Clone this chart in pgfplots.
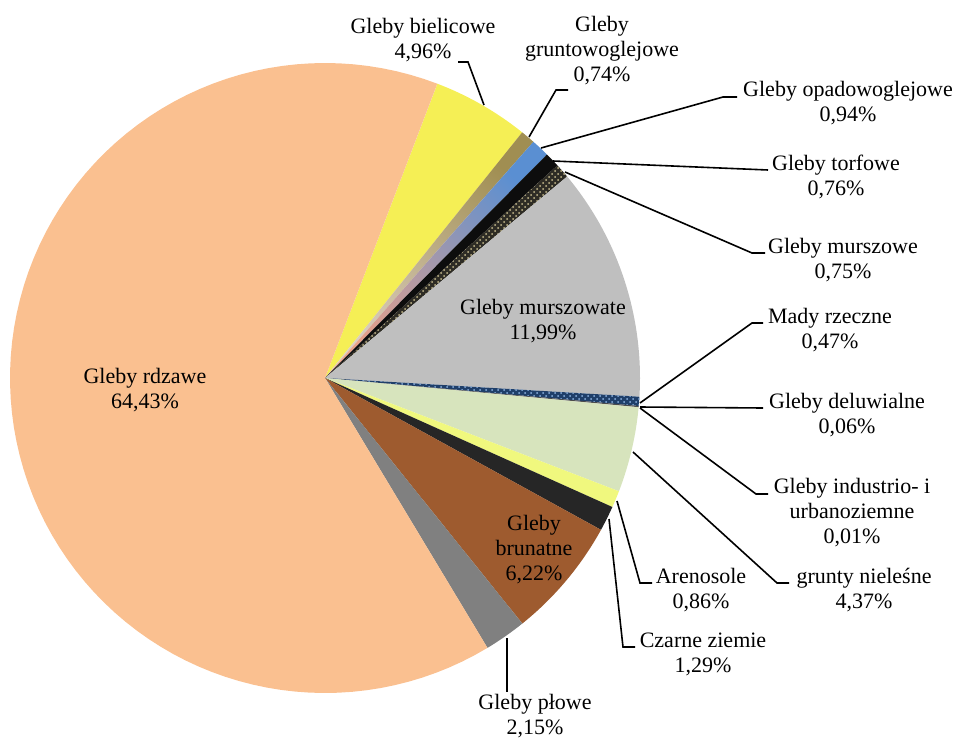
\documentclass[border=0pt]{standalone}
\usepackage{pgfplots}
\pgfplotsset{compat=1.18}
\usepackage{fontspec}
\setmainfont{Liberation Serif}
\usetikzlibrary{patterns}
\definecolor{rdzawe}{HTML}{FAC090}
\definecolor{bielic}{HTML}{F5EF55}
\definecolor{gruA}{HTML}{A08E52}
\definecolor{gruB}{HTML}{8B5A08}
\definecolor{gruC}{HTML}{DCCFC0}
\definecolor{opaA}{HTML}{5A8FD2}
\definecolor{opaB}{HTML}{17365D}
\definecolor{opaC}{HTML}{E8A088}
\definecolor{torf}{HTML}{0D0D0D}
\definecolor{murszB}{HTML}{2E2C25}
\definecolor{murszD}{HTML}{C8BC8E}
\definecolor{murszowate}{HTML}{BFBFBF}
\definecolor{madyB}{HTML}{1F3F6A}
\definecolor{madyD}{HTML}{8DB4E2}
\definecolor{deluw}{HTML}{4A4A4A}
\definecolor{indus}{HTML}{7F7F7F}
\definecolor{nieles}{HTML}{D7E4BD}
\definecolor{areno}{HTML}{F0F87E}
\definecolor{czarne}{HTML}{262626}
\definecolor{brunat}{HTML}{9E5B2F}
\definecolor{plowe}{HTML}{808080}
% running angle (clockwise from 12 o'clock)
\def\cur{20.9}
\newcommand\slice[2]{%
  \pgfmathsetmacro\nxt{\cur+#1*3.6}%
  \edef\doslice{\noexpand\addplot[draw=none,#2,domain=\cur:\nxt,samples=90,forget plot]
    ({325+315*sin(x)},{378-315*cos(x)}) -- (axis cs:325,378) -- cycle;}%
  \doslice
  \global\let\cur\nxt}
\begin{document}
\begin{tikzpicture}
\begin{axis}[width=478.5pt, height=369pt, scale only axis,
  xmin=0, xmax=957, ymin=0, ymax=738, y dir=reverse,
  hide axis, clip=false]
\slice{4.96}{fill=bielic}
\slice{0.74}{top color=gruA, middle color=gruB, bottom color=gruC, shading angle=-40}
\slice{0.94}{top color=opaA, middle color=opaB, bottom color=opaC, shading angle=-43}
\slice{0.76}{fill=torf}
\slice{0.75}{preaction={fill=murszB}, pattern=crosshatch dots, pattern color=murszD}
\slice{11.99}{fill=murszowate}
\slice{0.47}{preaction={fill=madyB}, pattern=crosshatch dots, pattern color=madyD}
\slice{0.06}{fill=deluw}
\slice{0.01}{fill=indus}
\slice{4.37}{fill=nieles}
\slice{0.86}{fill=areno}
\slice{1.29}{fill=czarne}
\slice{6.22}{fill=brunat}
\slice{2.15}{fill=plowe}
\slice{64.43}{fill=rdzawe}
% leader lines
\draw[line width=0.8pt] (axis cs:458,62) -- (axis cs:468,62) -- (axis cs:484,105);
\draw[line width=0.8pt] (axis cs:568,90) -- (axis cs:556,90) -- (axis cs:529,137);
\draw[line width=0.8pt] (axis cs:737,97) -- (axis cs:723,97) -- (axis cs:541,148);
\draw[line width=0.8pt] (axis cs:553,161) -- (axis cs:768,170);
\draw[line width=0.8pt] (axis cs:565,172) -- (axis cs:752,253) -- (axis cs:765,253);
\draw[line width=0.8pt] (axis cs:640,403) -- (axis cs:752,323) -- (axis cs:763,323);
\draw[line width=0.8pt] (axis cs:640,407) -- (axis cs:763,408);
\draw[line width=0.8pt] (axis cs:640,408) -- (axis cs:756,494) -- (axis cs:768,494);
\draw[line width=0.8pt] (axis cs:633,452) -- (axis cs:777,583) -- (axis cs:789,583);
\draw[line width=0.8pt] (axis cs:617,501) -- (axis cs:640,583) -- (axis cs:652,583);
\draw[line width=0.8pt] (axis cs:609,519) -- (axis cs:623,647) -- (axis cs:635,647);
\draw[line width=0.8pt] (axis cs:507,638) -- (axis cs:507,692);
% labels
\tikzset{lab/.style={align=center, inner sep=0pt, font=\fontsize{11}{12.5}\selectfont}}
\node[lab] at (axis cs:423,40) {Gleby bielicowe\\4,96\%};
\node[lab] at (axis cs:602,51) {Gleby\\gruntowoglejowe\\0,74\%};
\node[lab] at (axis cs:848,103) {Gleby opadowoglejowe\\0,94\%};
\node[lab] at (axis cs:836,177) {Gleby torfowe\\0,76\%};
\node[lab] at (axis cs:843,260) {Gleby murszowe\\0,75\%};
\node[lab] at (axis cs:543,321) {Gleby murszowate\\11,99\%};
\node[lab] at (axis cs:830,330) {Mady rzeczne\\0,47\%};
\node[lab] at (axis cs:847,415) {Gleby deluwialne\\0,06\%};
\node[lab] at (axis cs:852,513) {Gleby industrio- i\\urbanoziemne\\0,01\%};
\node[lab] at (axis cs:864,590) {grunty nieleśne\\4,37\%};
\node[lab] at (axis cs:701,590) {Arenosole\\0,86\%};
\node[lab] at (axis cs:703,654) {Czarne ziemie\\1,29\%};
\node[lab] at (axis cs:534,550) {Gleby\\brunatne\\6,22\%};
\node[lab] at (axis cs:535,716) {Gleby płowe\\2,15\%};
\node[lab] at (axis cs:145,390) {Gleby rdzawe\\64,43\%};
\path (axis cs:0,0) (axis cs:957,738);
\end{axis}
\end{tikzpicture}
\end{document}
